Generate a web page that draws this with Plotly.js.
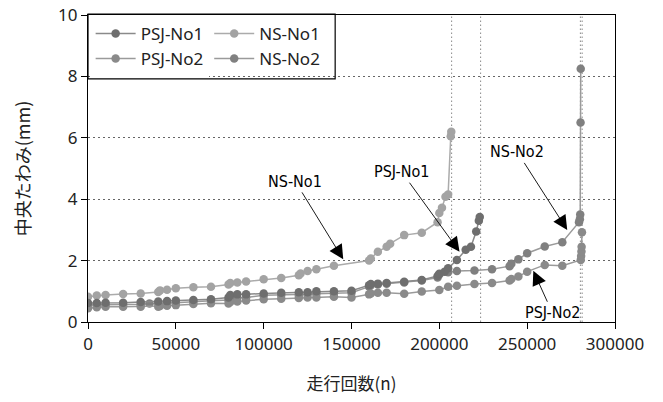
<!DOCTYPE html>
<html>
<head>
<meta charset="utf-8">
<script src="https://cdn.plot.ly/plotly-3.0.1.min.js"></script>
<style>html,body{margin:0;padding:0;background:#fff;}#chart{width:663px;height:402px;}</style>
</head>
<body>
<div id="chart"></div>
<script>
// ---- data ----
const seriesNames = ["PSJ-No1", "PSJ-No2", "NS-No1", "NS-No2"];

const psj1_n = [0,5000,10000,20000,30000,40000,45000,50000,60000,70000,80000,81000,85000,90000,100000,110000,120000,125000,130000,140000,150000,160000,161000,165000,170000,180000,190000,199000,200000,203000,205000,210000,215000,218000,221000,222500,223000];
const psj1_v = [0.62,0.62,0.63,0.63,0.65,0.67,0.68,0.70,0.72,0.74,0.80,0.88,0.90,0.90,0.93,0.95,0.97,0.97,1.00,1.00,1.02,1.20,1.24,1.25,1.27,1.31,1.37,1.50,1.57,1.64,1.75,2.02,2.35,2.45,2.95,3.30,3.42];

const psj2_n = [0,5000,10000,20000,30000,40000,41000,45000,50000,60000,70000,80000,81000,85000,90000,100000,110000,120000,125000,130000,140000,150000,160000,161000,165000,170000,180000,190000,200000,205000,210000,220000,230000,240000,241000,245000,250000,260000,270000,280500,280700,280900,281000,281200];
const psj2_v = [0.45,0.48,0.50,0.50,0.50,0.50,0.52,0.53,0.55,0.59,0.61,0.60,0.65,0.67,0.70,0.74,0.76,0.78,0.80,0.80,0.82,0.80,0.90,0.93,0.95,0.95,0.92,0.99,1.04,1.15,1.18,1.24,1.27,1.35,1.40,1.48,1.64,1.86,1.83,2.02,2.15,2.30,2.45,2.92];

const ns1_n = [0,5000,10000,20000,30000,40000,41000,45000,50000,60000,70000,80000,81000,85000,90000,100000,110000,120000,121000,125000,130000,140000,160000,161000,165000,170000,172000,180000,190000,199000,200000,201500,203500,205000,206500,206800];
const ns1_v = [0.82,0.86,0.88,0.91,0.93,0.98,1.03,1.05,1.10,1.13,1.15,1.22,1.27,1.29,1.32,1.39,1.43,1.52,1.58,1.66,1.72,1.83,2.00,2.07,2.29,2.45,2.55,2.83,2.91,3.25,3.55,3.72,4.08,4.15,6.05,6.20];

const ns2_n = [0,5000,10000,20000,30000,35000,40000,45000,50000,60000,70000,80000,81000,85000,90000,100000,110000,120000,125000,130000,140000,150000,160000,161000,165000,170000,180000,190000,199000,200000,205000,210000,220000,230000,240000,241000,245000,250000,260000,270000,279500,280000,280200,280400,280500];
const ns2_v = [0.55,0.55,0.57,0.57,0.58,0.60,0.61,0.62,0.63,0.67,0.69,0.72,0.76,0.78,0.80,0.87,0.88,0.88,0.90,0.92,0.93,0.95,1.15,1.20,1.22,1.25,1.29,1.35,1.45,1.55,1.62,1.66,1.68,1.72,1.82,1.90,2.04,2.24,2.46,2.60,3.25,3.35,3.50,6.50,8.25];

// failure cycle counts (vertical dotted reference lines)
const failureCycles = [207000, 223500, 280300, 281300];

// annotation labels and the points they point at
const labelTexts = ["NS-No1", "PSJ-No1", "NS-No2", "PSJ-No2"];
const labelN = [145300, 211500, 272800, 253500];
const labelV = [2.04, 2.29, 3.0, 1.67];

const xTicks = [0, 50000, 100000, 150000, 200000, 250000, 300000];
const yTicks = [0, 2, 4, 6, 8, 10];

// ---- styling ----
const markerColors = ["#6e6e6e", "#8a8a8a", "#a3a3a3", "#808080"];
const lineColors = ["#8a8a8a", "#9a9a9a", "#ababab", "#9a9a9a"];
const legendOf = ["legend", "legend", "legend2", "legend2"];
const xs = [psj1_n, psj2_n, ns1_n, ns2_n];
const ys = [psj1_v, psj2_v, ns1_v, ns2_v];

const traces = seriesNames.map((name, i) => ({
  type: "scatter",
  mode: "lines+markers",
  name: name,
  x: xs[i],
  y: ys[i],
  line: {color: lineColors[i], width: 1.5},
  marker: {color: markerColors[i], size: 8.5},
  legend: legendOf[i],
  legendrank: i + 1
}));
// draw order: lighter NS-No1 behind
const drawOrder = [2, 3, 1, 0];
const data = drawOrder.map(i => traces[i]);

const shapes = failureCycles.map(c => ({
  type: "line", xref: "x", yref: "paper", x0: c, x1: c, y0: 0, y1: 1,
  line: {color: "#8a8a8a", width: 1, dash: "1.5px,2.5px"}, layer: "below"
}));
// legend frame
shapes.push({type: "rect", xref: "paper", yref: "paper", x0: 0, x1: 0.469, y0: 0.792, y1: 1.003,
  line: {color: "#000", width: 1.2}, fillcolor: "rgba(0,0,0,0)", layer: "above"});

const annOffsets = [[-48, -78], [-58, -80], [-50, -78], [19, 42]];
const annotations = labelTexts.map((t, i) => ({
  x: labelN[i], y: labelV[i], xref: "x", yref: "y", text: t,
  showarrow: true, arrowhead: 2, arrowsize: 3.2, arrowwidth: 0.9, arrowcolor: "#000",
  ax: annOffsets[i][0], ay: annOffsets[i][1],
  font: {family: "Liberation Sans Narrow, DejaVu Sans Condensed, sans-serif", size: 16, color: "#000"}
}));

const tickFont = {family: "Noto Sans, DejaVu Sans, sans-serif", size: 17, color: "#222"};
const layout = {
  width: 663, height: 402,
  margin: {l: 88, r: 48, t: 15, b: 80},
  paper_bgcolor: "#fff", plot_bgcolor: "#fff",
  showlegend: true,
  xaxis: {
    range: [0, 300000], tickvals: xTicks, tickformat: "d",
    showgrid: false, zeroline: false,
    showline: true, linecolor: "#000", linewidth: 1.2, mirror: true,
    ticks: "outside", ticklen: 6, tickcolor: "#000",
    tickfont: tickFont,
    title: {text: "走行回数(n)", font: {family: "Noto Sans CJK JP, Noto Sans, sans-serif", size: 17, color: "#222"}, standoff: 24}
  },
  yaxis: {
    range: [0, 10], tickvals: yTicks,
    showgrid: true, gridcolor: "#666", griddash: "1.5px,3.5px", gridwidth: 1,
    zeroline: false,
    showline: true, linecolor: "#000", linewidth: 1.2, mirror: true,
    ticks: "outside", ticklen: 6, tickcolor: "#000",
    tickfont: tickFont,
    title: {text: "中央たわみ(mm)", font: {family: "Noto Sans CJK JP, Noto Sans, sans-serif", size: 18, color: "#222"}, standoff: 22}
  },
  legend: {x: 0.005, y: 0.997, xanchor: "left", yanchor: "top", bgcolor: "#fff",
    font: {family: "Noto Sans, DejaVu Sans, sans-serif", size: 17, color: "#222"},
    tracegroupgap: 0, itemwidth: 40, traceorder: "normal"},
  legend2: {x: 0.23, y: 0.997, xanchor: "left", yanchor: "top", bgcolor: "rgba(255,255,255,0)",
    font: {family: "Noto Sans, DejaVu Sans, sans-serif", size: 17, color: "#222"},
    tracegroupgap: 0, itemwidth: 40, traceorder: "normal"},
  shapes: shapes,
  annotations: annotations
};

Plotly.newPlot("chart", data, layout, {staticPlot: true, displayModeBar: false});
</script>
</body>
</html>
